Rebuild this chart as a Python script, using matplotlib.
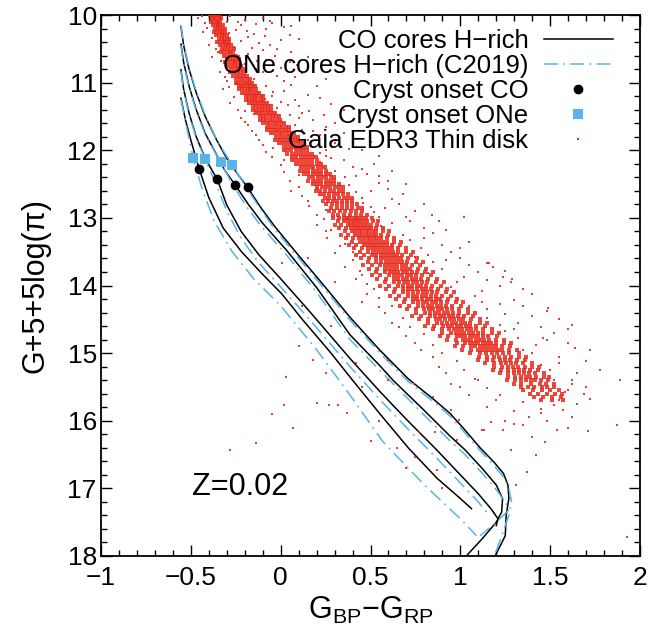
import matplotlib
matplotlib.use("Agg")
import matplotlib.pyplot as plt
from matplotlib.lines import Line2D
from matplotlib.ticker import MultipleLocator

plt.rcParams['font.family'] = ['Liberation Sans', 'DejaVu Sans']
plt.rcParams['mathtext.fontset'] = 'custom'
plt.rcParams['mathtext.rm'] = 'Liberation Sans'
plt.rcParams['mathtext.it'] = 'Liberation Sans'

# ---------------- cooling tracks (colour, magnitude) ----------------
co1_x = [-0.555, -0.54, -0.51, -0.47, -0.42, -0.356, -0.30, -0.24, -0.184, -0.11, -0.032, 0.098, 0.247, 0.386,
         0.55, 0.71, 0.85, 0.942, 1.02, 1.11, 1.19, 1.24, 1.265, 1.27, 1.255, 1.25, 1.19]
co1_y = [10.17, 10.45, 10.80, 11.15, 11.50, 11.85, 12.12, 12.35, 12.55, 12.85, 13.13, 13.55, 14.02, 14.47,
         14.95, 15.38, 15.68, 15.89, 16.12, 16.40, 16.62, 16.78, 16.95, 17.15, 17.40, 17.70, 18.02]
co2_x = [-0.555, -0.54, -0.51, -0.47, -0.42, -0.36, -0.31, -0.254, -0.18, -0.10, 0.033, 0.20, 0.386, 0.55,
         0.625, 0.80, 0.94, 1.026, 1.12, 1.20, 1.235, 1.23, 1.20, 1.12, 1.04]
co2_y = [10.43, 10.70, 11.05, 11.40, 11.75, 12.05, 12.30, 12.51, 12.80, 13.08, 13.48, 14.03, 14.73, 15.18,
         15.40, 15.85, 16.22, 16.43, 16.70, 16.95, 17.15, 17.35, 17.50, 17.75, 17.98]
co3_x = [-0.555, -0.54, -0.51, -0.47, -0.42, -0.353, -0.30, -0.22, -0.12, 0.0, 0.15, 0.386, 0.553, 0.70,
         0.868, 1.0, 1.10, 1.17, 1.21, 1.20]
co3_y = [10.81, 11.10, 11.45, 11.80, 12.12, 12.43, 12.81, 13.20, 13.55, 13.90, 14.35, 15.08, 15.57, 15.98,
         16.43, 16.80, 17.08, 17.30, 17.45, 17.55]
co4_x = [-0.555, -0.53, -0.50, -0.453, -0.40, -0.32, -0.218, -0.106, 0.005, 0.12, 0.274, 0.40, 0.553, 0.71,
         0.87, 1.0, 1.062]
co4_y = [11.23, 11.55, 11.85, 12.28, 12.70, 13.15, 13.50, 13.82, 14.12, 14.50, 14.98, 15.40, 15.90, 16.40,
         16.85, 17.15, 17.30]

one1_x = [-0.555, -0.54, -0.51, -0.47, -0.42, -0.356, -0.269, -0.184, -0.11, -0.032, 0.098, 0.247, 0.386, 0.55,
          0.71, 0.85, 0.942, 1.02, 1.11, 1.19, 1.24, 1.27, 1.285, 1.27, 1.23, 1.19]
one1_y = [10.15, 10.43, 10.78, 11.13, 11.48, 11.85, 12.22, 12.58, 12.88, 13.17, 13.59, 14.06, 14.51, 14.99,
          15.42, 15.72, 15.93, 16.16, 16.44, 16.67, 16.83, 17.00, 17.20, 17.40, 17.70, 18.00]
one2_x = [-0.555, -0.54, -0.51, -0.47, -0.42, -0.334, -0.254, -0.18, -0.10, 0.033, 0.20, 0.386, 0.55, 0.80,
          0.94, 1.026, 1.12, 1.20, 1.25, 1.27, 1.20, 1.11]
one2_y = [10.45, 10.72, 11.07, 11.42, 11.77, 12.18, 12.57, 12.87, 13.15, 13.55, 14.10, 14.80, 15.25, 15.92,
          16.29, 16.50, 16.77, 17.02, 17.20, 17.32, 17.50, 17.70]
one3_x = [-0.555, -0.54, -0.51, -0.47, -0.421, -0.36, -0.30, -0.22, -0.12, 0.0, 0.15, 0.386, 0.553, 0.70,
          0.868, 1.0, 1.10, 1.16]
one3_y = [10.83, 11.12, 11.47, 11.82, 12.13, 12.50, 12.90, 13.30, 13.67, 14.02, 14.47, 15.20, 15.69, 16.10,
          16.55, 16.92, 17.20, 17.40]
one4_x = [-0.555, -0.52, -0.486, -0.44, -0.37, -0.27, -0.15, 0.0, 0.20, 0.386, 0.569, 0.80, 1.0, 1.09]
one4_y = [11.25, 11.70, 12.12, 12.55, 13.05, 13.50, 13.90, 14.30, 14.95, 15.62, 16.31, 16.95, 17.45, 17.70]

# crystallization onset
cryst_co_x = [-0.453, -0.353, -0.254, -0.184]
cryst_co_y = [12.28, 12.43, 12.51, 12.55]
cryst_one_x = [-0.486, -0.421, -0.334, -0.269]
cryst_one_y = [12.12, 12.13, 12.18, 12.22]

# ---------------- Gaia EDR3 thin-disk sample ----------------
# dense sequence, one row of colours per magnitude step
gaia_band_mag = [10.00, 10.05, 10.10, 10.15, 10.20, 10.25, 10.30, 10.35, 10.40, 10.45,
                 10.50, 10.55, 10.60, 10.65, 10.70, 10.75, 10.80, 10.85, 10.90, 10.95,
                 11.00, 11.05, 11.10, 11.15, 11.20, 11.25, 11.30, 11.35, 11.40, 11.45,
                 11.50, 11.55, 11.60, 11.65, 11.70, 11.75, 11.80, 11.85, 11.90, 11.95,
                 12.00, 12.05, 12.10, 12.15, 12.20, 12.25, 12.30, 12.35, 12.40, 12.45,
                 12.50, 12.55, 12.60, 12.65, 12.70, 12.75, 12.80, 12.85, 12.90, 12.95,
                 13.00, 13.05, 13.10, 13.15, 13.20, 13.25, 13.30, 13.35, 13.40, 13.45,
                 13.50, 13.55, 13.60, 13.65, 13.70, 13.75, 13.80, 13.85, 13.90, 13.95,
                 14.00, 14.05, 14.10, 14.15, 14.20, 14.25, 14.30, 14.35, 14.40, 14.45,
                 14.50, 14.55, 14.60, 14.65, 14.70, 14.75, 14.80, 14.85, 14.90, 14.95,
                 15.00, 15.05, 15.10, 15.15, 15.20, 15.25, 15.30, 15.35, 15.40, 15.45,
                 15.50, 15.55, 15.60, 15.65, 15.70]
gaia_band_color = [
    [-0.396, -0.382, -0.370, -0.360, -0.346],
    [-0.383, -0.369, -0.358, -0.346, -0.334],
    [-0.388, -0.374, -0.359, -0.348, -0.335],
    [-0.377, -0.362, -0.349, -0.337, -0.323],
    [-0.364, -0.349, -0.337, -0.323, -0.310],
    [-0.370, -0.354, -0.339, -0.326, -0.312],
    [-0.359, -0.342, -0.328, -0.315, -0.299],
    [-0.345, -0.328, -0.315, -0.301, -0.286],
    [-0.352, -0.335, -0.318, -0.304, -0.289],
    [-0.340, -0.323, -0.307, -0.293, -0.276],
    [-0.326, -0.308, -0.294, -0.278, -0.262],
    [-0.332, -0.314, -0.295, -0.281, -0.264],
    [-0.318, -0.299, -0.282, -0.267, -0.248],
    [-0.301, -0.282, -0.267, -0.249, -0.232],
    [-0.308, -0.288, -0.268, -0.253, -0.235],
    [-0.293, -0.273, -0.255, -0.239, -0.219],
    [-0.275, -0.254, -0.238, -0.220, -0.201],
    [-0.282, -0.261, -0.240, -0.223, -0.204],
    [-0.266, -0.244, -0.225, -0.208, -0.187],
    [-0.247, -0.225, -0.208, -0.188, -0.168],
    [-0.250, -0.235, -0.220, -0.205, -0.190, -0.175, -0.160],
    [-0.230, -0.215, -0.200, -0.184, -0.169, -0.154, -0.141],
    [-0.231, -0.215, -0.200, -0.184, -0.169, -0.153, -0.137],
    [-0.214, -0.198, -0.182, -0.166, -0.150, -0.134, -0.118],
    [-0.194, -0.177, -0.161, -0.145, -0.129, -0.112, -0.099],
    [-0.195, -0.179, -0.162, -0.146, -0.129, -0.112, -0.096],
    [-0.176, -0.160, -0.143, -0.126, -0.109, -0.092, -0.076],
    [-0.155, -0.138, -0.121, -0.103, -0.086, -0.069, -0.055],
    [-0.156, -0.139, -0.121, -0.104, -0.086, -0.069, -0.052],
    [-0.137, -0.119, -0.102, -0.084, -0.066, -0.049, -0.031],
    [-0.115, -0.097, -0.079, -0.061, -0.043, -0.025, -0.010],
    [-0.116, -0.097, -0.079, -0.060, -0.042, -0.023, -0.004],
    [-0.096, -0.076, -0.057, -0.038, -0.019, 0.000, 0.020],
    [-0.072, -0.052, -0.032, -0.012, 0.008, 0.028, 0.044],
    [-0.074, -0.054, -0.033, -0.013, 0.008, 0.028, 0.048],
    [-0.053, -0.032, -0.011, 0.010, 0.031, 0.052, 0.073],
    [-0.027, -0.006, 0.015, 0.037, 0.058, 0.079, 0.096],
    [-0.029, -0.008, 0.014, 0.035, 0.056, 0.078, 0.099],
    [-0.007, 0.015, 0.036, 0.058, 0.080, 0.101, 0.123],
    [0.019, 0.041, 0.063, 0.085, 0.107, 0.129, 0.147],
    [0.016, 0.038, 0.060, 0.083, 0.105, 0.127, 0.149],
    [0.038, 0.061, 0.083, 0.106, 0.129, 0.151, 0.174],
    [0.065, 0.088, 0.111, 0.133, 0.156, 0.179, 0.198],
    [0.061, 0.084, 0.107, 0.130, 0.153, 0.177, 0.200],
    [0.084, 0.107, 0.131, 0.154, 0.177, 0.201, 0.224],
    [0.111, 0.134, 0.158, 0.182, 0.206, 0.229, 0.249],
    [0.106, 0.130, 0.154, 0.178, 0.202, 0.226, 0.250],
    [0.130, 0.154, 0.178, 0.202, 0.226, 0.250, 0.274],
    [0.158, 0.182, 0.206, 0.230, 0.254, 0.278, 0.298],
    [0.154, 0.178, 0.202, 0.226, 0.250, 0.274, 0.298],
    [0.178, 0.202, 0.226, 0.250, 0.274, 0.298, 0.322],
    [0.203, 0.228, 0.253, 0.277, 0.302, 0.327, 0.347],
    [0.196, 0.221, 0.246, 0.272, 0.297, 0.322, 0.347],
    [0.218, 0.243, 0.269, 0.295, 0.321, 0.347, 0.372],
    [0.244, 0.270, 0.297, 0.323, 0.350, 0.376, 0.398],
    [0.235, 0.262, 0.289, 0.316, 0.343, 0.370, 0.397],
    [0.255, 0.284, 0.312, 0.340, 0.368, 0.396, 0.425],
    [0.281, 0.311, 0.340, 0.370, 0.399, 0.429, 0.453],
    [0.268, 0.299, 0.329, 0.360, 0.390, 0.421, 0.452],
    [0.290, 0.321, 0.353, 0.385, 0.417, 0.449, 0.480],
    [0.290, 0.323, 0.350, 0.367, 0.383, 0.400, 0.417, 0.433, 0.450, 0.477, 0.510],
    [0.319, 0.353, 0.373, 0.391, 0.407, 0.425, 0.441, 0.459, 0.479, 0.513, 0.541],
    [0.302, 0.338, 0.373, 0.391, 0.408, 0.426, 0.444, 0.462, 0.479, 0.503, 0.538],
    [0.326, 0.363, 0.393, 0.411, 0.430, 0.448, 0.466, 0.485, 0.503, 0.533, 0.570],
    [0.357, 0.395, 0.416, 0.436, 0.454, 0.474, 0.492, 0.512, 0.533, 0.571, 0.603],
    [0.337, 0.376, 0.415, 0.434, 0.454, 0.473, 0.493, 0.513, 0.532, 0.558, 0.597],
    [0.364, 0.404, 0.438, 0.458, 0.478, 0.498, 0.518, 0.538, 0.558, 0.592, 0.632],
    [0.399, 0.440, 0.464, 0.486, 0.505, 0.527, 0.546, 0.568, 0.592, 0.633, 0.668],
    [0.378, 0.420, 0.463, 0.484, 0.506, 0.527, 0.548, 0.570, 0.591, 0.619, 0.662],
    [0.406, 0.450, 0.486, 0.508, 0.530, 0.552, 0.574, 0.596, 0.618, 0.654, 0.698],
    [0.442, 0.487, 0.513, 0.537, 0.558, 0.582, 0.603, 0.627, 0.653, 0.698, 0.735],
    [0.419, 0.464, 0.510, 0.533, 0.556, 0.578, 0.601, 0.624, 0.647, 0.677, 0.723],
    [0.448, 0.494, 0.533, 0.556, 0.579, 0.602, 0.625, 0.648, 0.671, 0.710, 0.756],
    [0.485, 0.532, 0.559, 0.584, 0.606, 0.630, 0.652, 0.677, 0.704, 0.751, 0.790],
    [0.460, 0.508, 0.555, 0.579, 0.602, 0.626, 0.650, 0.674, 0.697, 0.729, 0.776],
    [0.490, 0.538, 0.578, 0.602, 0.626, 0.650, 0.674, 0.698, 0.722, 0.762, 0.810],
    [0.530, 0.579, 0.606, 0.632, 0.655, 0.681, 0.704, 0.730, 0.757, 0.806, 0.846],
    [0.506, 0.555, 0.604, 0.629, 0.653, 0.678, 0.702, 0.727, 0.752, 0.784, 0.834],
    [0.538, 0.588, 0.629, 0.654, 0.679, 0.704, 0.729, 0.754, 0.779, 0.820, 0.870],
    [0.579, 0.630, 0.658, 0.685, 0.709, 0.735, 0.759, 0.786, 0.814, 0.865, 0.907],
    [0.553, 0.604, 0.655, 0.680, 0.706, 0.731, 0.757, 0.783, 0.808, 0.842, 0.893],
    [0.588, 0.639, 0.681, 0.707, 0.732, 0.758, 0.784, 0.809, 0.835, 0.877, 0.928],
    [0.631, 0.682, 0.711, 0.739, 0.762, 0.790, 0.813, 0.841, 0.870, 0.921, 0.963],
    [0.607, 0.658, 0.709, 0.734, 0.760, 0.785, 0.811, 0.837, 0.862, 0.896, 0.947],
    [0.642, 0.693, 0.735, 0.761, 0.786, 0.812, 0.838, 0.863, 0.889, 0.931, 0.982],
    [0.685, 0.736, 0.765, 0.793, 0.816, 0.844, 0.867, 0.895, 0.924, 0.975, 1.017],
    [0.665, 0.716, 0.767, 0.792, 0.818, 0.843, 0.869, 0.895, 0.920, 0.954, 1.005],
    [0.704, 0.755, 0.797, 0.823, 0.848, 0.874, 0.900, 0.925, 0.951, 0.993, 1.044],
    [0.751, 0.802, 0.831, 0.859, 0.882, 0.910, 0.933, 0.961, 0.990, 1.041, 1.083],
    [0.731, 0.782, 0.833, 0.858, 0.884, 0.909, 0.935, 0.961, 0.986, 1.020, 1.071],
    [0.770, 0.821, 0.863, 0.889, 0.914, 0.940, 0.966, 0.991, 1.017, 1.059, 1.110],
    [0.821, 0.872, 0.900, 0.927, 0.951, 0.977, 1.001, 1.028, 1.056, 1.107, 1.149],
    [0.805, 0.855, 0.905, 0.930, 0.955, 0.980, 1.005, 1.030, 1.054, 1.088, 1.137],
    [0.848, 0.897, 0.938, 0.963, 0.987, 1.012, 1.037, 1.061, 1.086, 1.127, 1.176],
    [0.898, 0.947, 0.974, 1.000, 1.023, 1.049, 1.072, 1.098, 1.125, 1.174, 1.214],
    [0.884, 0.932, 0.980, 1.004, 1.028, 1.052, 1.076, 1.100, 1.124, 1.156, 1.204],
    [0.928, 0.975, 1.015, 1.039, 1.062, 1.086, 1.110, 1.133, 1.157, 1.197, 1.244],
    [0.979, 1.026, 1.053, 1.078, 1.100, 1.124, 1.146, 1.171, 1.198, 1.245, 1.284],
    [0.969, 1.015, 1.061, 1.084, 1.107, 1.130, 1.153, 1.177, 1.200, 1.230, 1.277],
    [1.012, 1.058, 1.096, 1.118, 1.141, 1.164, 1.187, 1.210, 1.232, 1.270, 1.316],
    [1.055, 1.107, 1.145, 1.175, 1.205, 1.235, 1.273, 1.325],
    [1.105, 1.149, 1.186, 1.216, 1.246, 1.283, 1.327, 1.364],
    [1.096, 1.147, 1.184, 1.220, 1.249, 1.279, 1.315, 1.359],
    [1.138, 1.189, 1.225, 1.254, 1.282, 1.311, 1.347, 1.398],
    [1.187, 1.230, 1.266, 1.294, 1.322, 1.358, 1.401, 1.436],
    [1.180, 1.229, 1.264, 1.299, 1.327, 1.355, 1.390, 1.432],
    [1.220, 1.267, 1.301, 1.328, 1.356, 1.383, 1.417, 1.464],
    [1.265, 1.305, 1.338, 1.364, 1.390, 1.423, 1.463, 1.496],
    [1.258, 1.303, 1.335, 1.367, 1.392, 1.418, 1.450, 1.488],
    [1.296, 1.340, 1.396, 1.445, 1.476, 1.520],
    [1.340, 1.376, 1.412, 1.454, 1.484, 1.520],
    [1.347, 1.407, 1.457, 1.497, 1.547],
    [1.385, 1.435, 1.485, 1.525, 1.565],
    [1.410, 1.460, 1.510, 1.560],
    [1.450, 1.510, 1.570],
]

# scattered stars around the sequence
gaia_halo_color = [
    -0.46, -0.28, -0.20, -0.10, -0.05, -0.43, -0.25, -0.15, 0.02, -0.40, -0.22, -0.12, -0.02, 0.10,
    -0.38, -0.18, -0.08, 0.05, -0.34, -0.14, -0.02, 0.12, 0.25, -0.30,
    -0.32, -0.08, 0.02, 0.15, -0.28, 0.00, 0.10, 0.28, -0.22, 0.05, 0.18, 0.30, -0.16, 0.12, 0.22, 0.40,
    -0.10, 0.18, 0.30, 0.45,
    -0.05, 0.25, 0.35, 0.52, 0.02, 0.30, 0.42, 0.60, 0.10, 0.38, 0.50, 0.68, 0.15, 0.46, 0.58, 0.75,
    0.20, 0.55,
    0.20, 0.62, 0.80, 0.26, 0.72, 0.90, 0.30, 0.82, 1.00, 0.36, 0.90, 1.10, 0.42, 0.98, 1.22, 0.30, 0.15,
    0.48, 1.08, 1.30, 0.55, 1.15, 1.40, 0.62, 1.22, 0.70, 1.32, 1.52, 0.78, 1.40, 0.60,
    0.88, 1.50, 0.95, 1.62, 1.05, 1.20, 1.30,
    -0.28, -0.14, 0.03, 0.02, 0.07, 0.20, 0.27, 0.32, 0.37, 0.01, 0.10, 0.25, 0.45, 0.55, 0.65,
    1.89, 1.87, 1.71, 1.62, 1.72, 1.64, 1.60, 1.54, 1.40, 1.35, 1.13, 1.02, 1.15, 1.18, 1.29, 1.24,
    1.49, 1.46, 1.69, 1.72, 1.58, 1.52, 1.45, 1.57,
    1.93, 1.47, 1.31, 1.37, 1.42, 1.28, 1.17, 1.12, 1.24, 0.95, 0.99, 0.87, 0.98, 0.75, 0.86, 0.77, 0.74,
    -0.30, -0.22, -0.08, 0.05, -0.18, -0.42, -0.32,
    -0.35, -0.20, -0.10, 0.00, 0.15, -0.30, -0.15, 0.08,
    -0.25, -0.05, 0.08, 0.20, -0.20, 0.12, 0.35, -0.02,
    -0.18, 0.08, 0.25, 0.15, 0.35, 0.50, -0.12, 0.25,
    0.00, 0.22, 0.40, 0.30, 0.48, 0.62, 0.05, 0.55,
    0.12, 0.45, 0.62, 0.80, 0.52, 0.70, 0.25, 0.88,
    0.25, 0.68, 0.85, 1.05, 0.78, 0.33, 0.95,
    0.40, 0.85, 1.05, 1.25, 0.45, 1.15, 1.35,
    0.52, 1.12, 1.35, 0.58, 1.25, 1.55, 0.45,
    0.66, 1.30, 1.45, 0.75, 1.42, 1.60, 0.85,
    0.92, 1.55, 1.65, 1.00, 1.60, 1.10, 1.78,
    1.15, 1.38, 1.65, 0.85, 1.25,
    0.12, 0.28, 0.18, 0.42, 0.60, 0.50, 0.70, 0.90, -0.05,
]
gaia_halo_mag = [
    10.05, 10.02, 10.08, 10.04, 10.12, 10.25, 10.22, 10.28, 10.18, 10.45, 10.38, 10.42, 10.50, 10.35,
    10.62, 10.58, 10.66, 10.70, 10.85, 10.80, 10.90, 10.86, 10.95, 10.98,
    11.10, 11.05, 11.12, 11.18, 11.30, 11.28, 11.35, 11.32, 11.52, 11.48, 11.55, 11.60, 11.72, 11.70, 11.78, 11.82,
    11.92, 11.95, 11.90, 12.00,
    12.10, 12.08, 12.15, 12.20, 12.32, 12.30, 12.38, 12.45, 12.55, 12.52, 12.60, 12.65, 12.75, 12.78, 12.85, 12.90,
    12.95, 12.98,
    13.10, 13.08, 13.15, 13.30, 13.32, 13.40, 13.52, 13.55, 13.60, 13.72, 13.75, 13.80, 13.90, 13.95, 14.00, 13.95, 13.60,
    14.12, 14.15, 14.22, 14.32, 14.35, 14.45, 14.55, 14.58, 14.75, 14.78, 14.70, 14.95, 15.00, 15.10,
    15.20, 15.25, 15.45, 15.45, 15.62, 15.70, 15.85,
    16.43, 16.33, 15.35, 15.77, 16.11, 15.74, 15.77, 15.77, 15.88, 13.67, 14.90, 15.30, 15.50, 16.00, 16.40,
    15.40, 16.07, 16.15, 14.59, 14.96, 14.93, 16.11, 16.14, 16.24, 16.07, 16.14, 12.98, 13.66, 13.72, 13.91, 13.88,
    14.34, 14.77, 15.60, 15.68, 15.58, 15.77, 15.89, 15.84,
    17.72, 16.31, 16.95, 16.76, 16.51, 16.43, 16.02, 16.14, 16.14, 15.84, 15.99, 16.73, 16.29, 16.53, 16.16, 16.16, 15.45,
    10.10, 10.15, 10.20, 10.30, 10.33, 10.12, 10.40,
    10.55, 10.72, 10.52, 10.78, 10.62, 10.78, 10.95, 10.92,
    11.02, 11.20, 11.25, 11.05, 11.42, 11.45, 11.40, 11.38,
    11.62, 11.62, 11.66, 11.85, 11.75, 11.88, 11.85, 12.00,
    12.22, 12.18, 12.25, 12.42, 12.35, 12.30, 12.45, 12.48,
    12.68, 12.70, 12.72, 12.80, 12.92, 12.98, 12.88, 13.05,
    13.20, 13.25, 13.22, 13.35, 13.45, 13.42, 13.50,
    13.62, 13.65, 13.70, 13.78, 13.85, 13.92, 14.05,
    14.05, 14.25, 14.30, 14.40, 14.42, 14.50, 14.25,
    14.62, 14.65, 14.62, 14.85, 14.88, 14.85, 15.05,
    15.30, 15.15, 15.30, 15.50, 15.55, 15.40, 15.25,
    15.80, 15.95, 15.75, 15.65, 16.00,
    14.30, 14.60, 15.10, 15.15, 15.40, 16.30, 16.70, 17.00, 15.90,
]
gaia_halo2_color = [
    -0.44, -0.33, -0.24, -0.14, -0.06, 0.06, -0.41, -0.29, -0.19, -0.09, 0.00, -0.38, -0.26, -0.16,
    -0.06, 0.06, -0.36, -0.23, -0.13, -0.03, 0.09, -0.33, -0.20, -0.10, 0.02, 0.18, -0.31,
    -0.29, -0.17, -0.04, 0.06, 0.22, -0.26, -0.09, 0.04, 0.16, -0.24, -0.15, 0.00, 0.10, 0.24, 0.40,
    -0.20, -0.08, 0.04, 0.18, 0.30, -0.14, -0.04, 0.10, 0.22, 0.38, 0.55,
    -0.08, 0.02, 0.18, 0.28, 0.45, 0.10, 0.36, 0.55, 0.70, 0.06, 0.20, 0.42, 0.60, 0.16, 0.30, 0.50,
    0.66, 0.84,
    0.24, 0.56, 0.72, 0.92, 0.28, 0.62, 0.80, 1.00, 0.36, 0.40, 0.75, 0.92, 1.16, 0.44, 0.82, 1.02,
    1.28, 0.48, 0.95, 1.12, 1.40, 0.55, 1.05, 1.22, 1.48, 0.62, 0.68, 1.15, 1.32, 1.60, 0.72, 0.80,
    1.25, 1.48, 0.85, 0.90, 1.35, 1.55, 1.70, 0.98, 1.02, 1.45, 1.62, 1.08, 1.15, 1.52, 1.70, 1.22,
    1.35, 1.55, 1.45, 1.62, 1.30, 1.48,
]
gaia_halo2_mag = [
    10.02, 10.06, 10.10, 10.14, 10.09, 10.16, 10.19, 10.27, 10.23, 10.31, 10.37, 10.34, 10.47, 10.49,
    10.44, 10.54, 10.50, 10.60, 10.68, 10.61, 10.74, 10.68, 10.88, 10.84, 10.98, 10.80, 10.92,
    11.06, 11.08, 11.14, 11.03, 11.22, 11.21, 11.24, 11.33, 11.42, 11.40, 11.47, 11.56, 11.52, 11.48, 11.55,
    11.58, 11.66, 11.78, 11.72, 11.85, 11.78, 11.96, 11.88, 12.04, 11.98, 12.08,
    12.02, 12.14, 12.26, 12.12, 12.28, 12.36, 12.40, 12.38, 12.50, 12.60, 12.58, 12.62, 12.58, 12.82, 12.70, 12.84,
    12.80, 12.95,
    13.02, 13.12, 13.05, 13.18, 13.18, 13.38, 13.30, 13.45, 13.38, 13.50, 13.58, 13.62, 13.66, 13.78, 13.82, 13.88,
    13.95, 13.98, 14.02, 14.08, 14.12, 14.18, 14.30, 14.28, 14.38, 14.30, 14.48, 14.48, 14.55, 14.65, 14.62, 14.72,
    14.68, 14.80, 14.88, 15.00, 14.95, 15.05, 15.12, 15.12, 15.25, 15.18, 15.40, 15.38, 15.52, 15.40, 15.50, 15.62,
    15.72, 15.70, 15.82, 15.95, 16.05, 16.00,
]

# tick / axis settings
x_limits = (-1, 2)
y_limits = (18, 10)
x_ticks = [-1, -0.5, 0, 0.5, 1, 1.5, 2]
x_ticklabels = ['\u22121', '\u22120.5', '0', '0.5', '1', '1.5', '2']
y_ticks = [10, 11, 12, 13, 14, 15, 16, 17, 18]

# ---------------- figure ----------------
BLUE = '#56b4e9'
RED = '#e8291c'
DASHES = [9, 3.5, 1.2, 3.5]

fig = plt.figure(figsize=(6.72, 6.39), dpi=100)
ax = fig.add_axes([0.1503, 0.1299, 0.8021, 0.8466])

for xs, ys in [(co1_x, co1_y), (co2_x, co2_y), (co3_x, co3_y), (co4_x, co4_y)]:
    ax.plot(xs, ys, color='black', lw=1.1, zorder=3)
for xs, ys in [(one1_x, one1_y), (one2_x, one2_y), (one3_x, one3_y), (one4_x, one4_y)]:
    ax.plot(xs, ys, color=BLUE, lw=1.1, dashes=DASHES, zorder=3)

ax.plot(cryst_co_x, cryst_co_y, 'o', color='black', ms=6, zorder=5)
ax.plot(cryst_one_x, cryst_one_y, 's', color=BLUE, ms=6.5, mew=0, zorder=5)

bx, by = [], []
for m, row in zip(gaia_band_mag, gaia_band_color):
    for c in row:
        bx.append(c)
        by.append(m)
ax.scatter(bx, by, s=5.5, marker='s', color=RED, alpha=0.85, linewidths=0, zorder=4)
ax.scatter(gaia_halo_color + gaia_halo2_color, gaia_halo_mag + gaia_halo2_mag, s=3.5, marker='s',
           color=RED, alpha=0.9, linewidths=0, zorder=4)

ax.set_xlim(*x_limits)
ax.set_ylim(*y_limits)
ax.set_xticks(x_ticks)
ax.set_xticklabels(x_ticklabels)
ax.set_yticks(y_ticks)
ax.xaxis.set_minor_locator(MultipleLocator(0.1))
ax.yaxis.set_minor_locator(MultipleLocator(0.2))
ax.tick_params(which='both', direction='in', top=True, right=True, labelsize=19, width=1.0)
ax.tick_params(which='major', length=8)
ax.tick_params(which='minor', length=4)
ax.tick_params(axis='x', which='major', pad=7)
ax.tick_params(axis='y', which='major', pad=3)
for sp in ax.spines.values():
    sp.set_linewidth(1.3)

ax.set_xlabel('G$_{\\mathregular{BP}}$\u2212G$_{\\mathregular{RP}}$', fontsize=22, labelpad=4)
ax.set_ylabel('G+5+5log(\u03c0)', fontsize=22, labelpad=12)

ax.text(-0.494, 16.98, 'Z=0.02', fontsize=22, va='center', ha='left')

handles = [
    Line2D([], [], color='black', lw=1.1),
    Line2D([], [], color=BLUE, lw=1.1, dashes=DASHES),
    Line2D([], [], ls='none', marker='o', color='black', ms=6),
    Line2D([], [], ls='none', marker='s', color=BLUE, ms=6.5, mew=0),
    Line2D([], [], ls='none', marker='s', color=RED, ms=1.5, mew=0),
]
labels = ['CO cores H\u2212rich', 'ONe cores H\u2212rich (C2019)', 'Cryst onset CO',
          'Cryst onset ONe', 'Gaia EDR3 Thin disk']
leg = ax.legend(handles, labels, loc='upper right', bbox_to_anchor=(0.95, 0.975),
                frameon=False, markerfirst=False, fontsize=18.5, labelspacing=0.04,
                handlelength=2.7, handletextpad=0.6, borderpad=0, borderaxespad=0)
for t in leg.get_texts():
    t.set_ha('right')
leg._legend_box.align = 'right'
for vp in leg._legend_box.get_children()[1].get_children():
    vp.align = 'right'

fig.savefig('out.png', dpi=100)
